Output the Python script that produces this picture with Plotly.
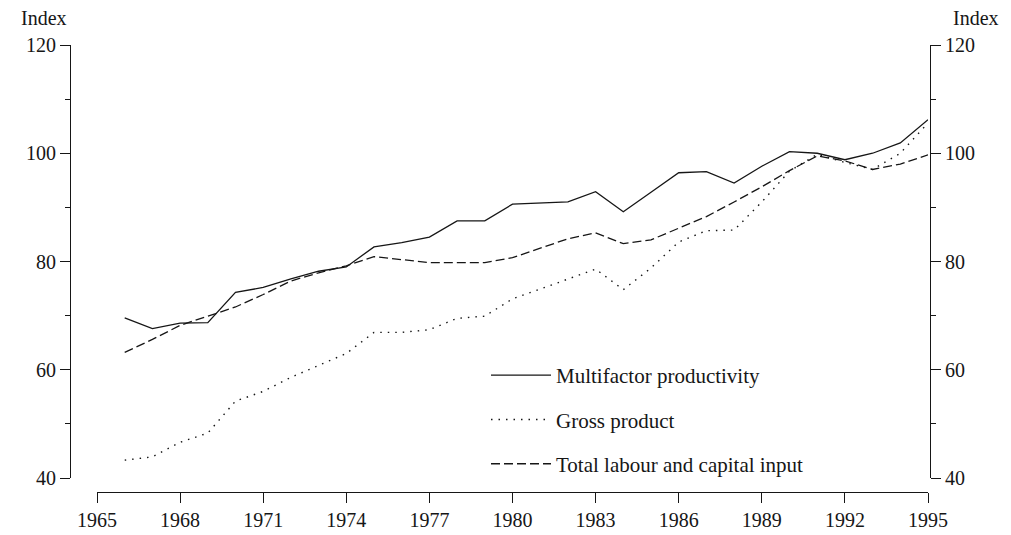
import plotly.graph_objects as go

years = list(range(1966, 1996))

multifactor_productivity = [69.6, 67.6, 68.6, 68.7, 74.3, 75.2, 76.8, 78.2, 79.0, 82.7,
                            83.5, 84.5, 87.5, 87.5, 90.6, 90.8, 91.0, 92.9, 89.2, 92.8,
                            96.4, 96.6, 94.5, 97.6, 100.3, 100.0, 98.8, 100.0, 101.9, 106.2]

gross_product = [43.3, 43.9, 46.6, 48.3, 54.2, 56.0, 58.6, 60.8, 63.0, 66.9,
                 66.9, 67.4, 69.5, 69.9, 73.1, 74.9, 76.8, 78.6, 74.8, 78.8,
                 83.6, 85.7, 85.8, 91.0, 96.7, 99.8, 98.3, 97.0, 100.0, 105.6]

labour_capital_input = [63.2, 65.6, 68.2, 69.9, 71.6, 73.9, 76.4, 77.9, 79.2, 80.9,
                        80.4, 79.8, 79.8, 79.8, 80.7, 82.5, 84.2, 85.3, 83.3, 84.0,
                        86.1, 88.3, 91.0, 93.8, 96.8, 99.5, 98.6, 97.0, 98.0, 99.7]

x_ticks = list(range(1965, 1996, 3))
series_names = ["Multifactor productivity", "Gross product", "Total labour and capital input"]

FONT = "Liberation Serif, Times New Roman, serif"
INK = "#161616"
FS = 20

fig = go.Figure()
fig.add_trace(go.Scatter(x=years, y=multifactor_productivity, mode="lines",
                         name=series_names[0], legendgroup="a",
                         line=dict(color=INK, width=1.3)))
fig.add_trace(go.Scatter(x=years, y=gross_product, mode="lines",
                         name=series_names[1], legendgroup="b",
                         line=dict(color=INK, width=1.4, dash="1.5px,6px")))
fig.add_trace(go.Scatter(x=years, y=labour_capital_input, mode="lines",
                         name=series_names[2], legendgroup="c",
                         line=dict(color=INK, width=1.3, dash="9px,4px")))
# invisible companion trace so the right-hand axis is drawn
fig.add_trace(go.Scatter(x=years, y=multifactor_productivity, mode="lines", yaxis="y2",
                         showlegend=False, hoverinfo="skip", opacity=0,
                         line=dict(color=INK, width=1)))

axis_common = dict(range=[40, 120], dtick=20, tick0=40, showgrid=False, zeroline=False,
                   showline=True, linecolor=INK, linewidth=1.2, automargin=False,
                   ticks="outside", ticklen=10, tickwidth=1.2, tickcolor=INK,
                   minor=dict(dtick=10, ticks="outside", ticklen=5, tickcolor=INK, tickwidth=1),
                   tickfont=dict(family=FONT, size=FS, color=INK),
                   domain=[14 / 447, 1], anchor="free")

fig.update_layout(
    width=1011, height=535,
    margin=dict(l=70, r=81, t=45, b=43, autoexpand=False),
    paper_bgcolor="white", plot_bgcolor="white",
    font=dict(family=FONT, size=FS, color=INK),
    xaxis=dict(range=[1965, 1995], domain=[27 / 860, 858 / 860], anchor="free", position=0,
               tickvals=x_ticks, ticktext=[str(v) for v in x_ticks], automargin=False,
               showgrid=False, zeroline=False, showline=True, linecolor=INK, linewidth=1.1,
               ticks="outside", ticklen=10, tickwidth=1.2, tickcolor=INK,
               tickfont=dict(family=FONT, size=FS, color=INK)),
    yaxis=dict(**axis_common, side="left", position=0),
    yaxis2=dict(**axis_common, side="right", position=1, overlaying="y"),
    legend=dict(x=(486 - 70) / 860, y=(492 - 355) / 447, xanchor="left", yanchor="top",
                bgcolor="rgba(0,0,0,0)", borderwidth=0, tracegroupgap=14,
                font=dict(family=FONT, size=21, color=INK), itemwidth=60),
    showlegend=True,
    annotations=[
        dict(text="Index", xref="paper", yref="paper", x=(44 - 70) / 860, y=(492 - 18) / 447,
             xanchor="center", yanchor="middle", showarrow=False,
             font=dict(family=FONT, size=FS, color=INK)),
        dict(text="Index", xref="paper", yref="paper", x=(976 - 70) / 860, y=(492 - 18) / 447,
             xanchor="center", yanchor="middle", showarrow=False,
             font=dict(family=FONT, size=FS, color=INK)),
    ],
)

fig.write_html("out.html", config={"displayModeBar": False},
               post_script="document.body.style.margin='0px';document.body.style.overflow='hidden';")
